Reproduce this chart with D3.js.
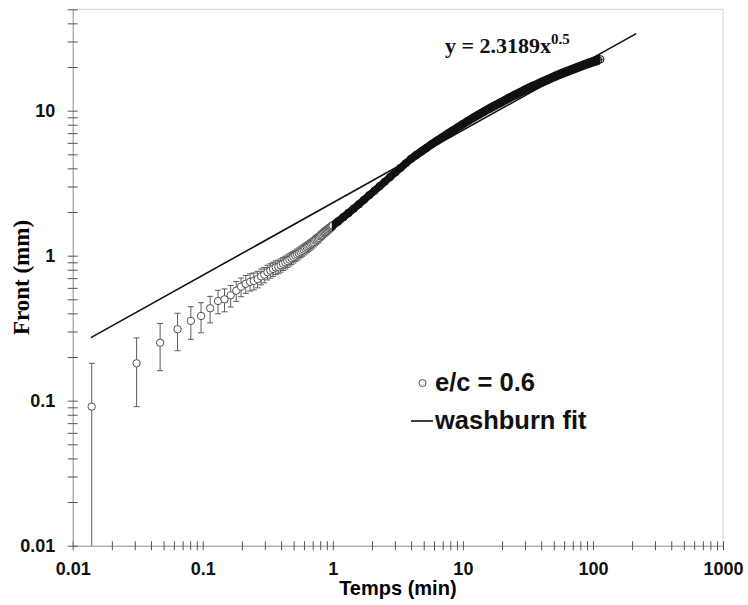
<!DOCTYPE html>
<meta charset="utf-8">
<html>
<head>
<script src="https://d3js.org/d3.v7.min.js"></script>
<style>
body { margin: 0; background: #fff; }
.axis .tick text { font: bold 18px "Liberation Sans", Arial, sans-serif; fill: #111; }
.axis path.domain { stroke: #8c8c8c; }
.axis .tick line { stroke: #555; }
</style>
</head>
<body>
<div id="chart"></div>
<script>
// data (time in min, front in mm)
var earlyTime = [0.014, 0.031, 0.047, 0.064, 0.081, 0.097, 0.114, 0.131, 0.147, 0.164,
  0.181, 0.197, 0.214, 0.231, 0.247, 0.264, 0.281, 0.297, 0.314, 0.331,
  0.347, 0.364, 0.381, 0.397, 0.414, 0.431, 0.447, 0.464, 0.481, 0.497,
  0.514, 0.531, 0.547, 0.564, 0.581, 0.597, 0.614, 0.631, 0.647, 0.664,
  0.681, 0.697, 0.714, 0.731, 0.747, 0.764, 0.781, 0.797, 0.814, 0.831,
  0.847, 0.864, 0.881, 0.897, 0.914, 0.931, 0.947, 0.964, 0.981, 0.997];
var earlyFront = [0.091, 0.181, 0.251, 0.311, 0.355, 0.384, 0.434, 0.487, 0.50, 0.533,
  0.574, 0.611, 0.64, 0.66, 0.67, 0.69, 0.72, 0.74, 0.77, 0.79,
  0.81, 0.83, 0.84, 0.86, 0.88, 0.90, 0.92, 0.94, 0.96, 0.98,
  1.00, 1.02, 1.04, 1.06, 1.08, 1.10, 1.12, 1.14, 1.16, 1.18,
  1.20, 1.22, 1.24, 1.27, 1.29, 1.31, 1.33, 1.36, 1.38, 1.40,
  1.43, 1.45, 1.47, 1.49, 1.51, 1.53, 1.55, 1.57, 1.59, 1.61];

var lateTime = [1.096, 1.202, 1.318, 1.445, 1.585, 1.738, 1.905, 2.089, 2.291, 2.512,
  2.754, 3.020, 3.311, 3.631, 3.981, 4.365, 4.786, 5.248, 5.754, 6.310,
  6.918, 7.586, 8.318, 9.120, 10.0, 10.96, 12.02, 13.18, 14.45, 15.85,
  17.38, 19.05, 20.89, 22.91, 25.12, 27.54, 30.20, 33.11, 36.31, 39.81,
  43.65, 47.86, 52.48, 57.54, 63.10, 69.18, 75.86, 83.18, 91.20, 100,
  109.6, 113.8];
var lateFront = [1.72, 1.84, 1.97, 2.11, 2.26, 2.43, 2.61, 2.80, 3.01, 3.24,
  3.48, 3.75, 4.03, 4.33, 4.65, 4.93, 5.22, 5.53, 5.86, 6.19,
  6.54, 6.90, 7.28, 7.67, 8.07, 8.49, 8.92, 9.36, 9.82, 10.29,
  10.77, 11.26, 11.77, 12.29, 12.82, 13.36, 13.92, 14.48, 15.05, 15.63,
  16.22, 16.82, 17.42, 18.03, 18.64, 19.26, 19.87, 20.50, 21.12, 21.73,
  22.35, 22.6];

var errorMm = 0.09;

// washburn fit y = 2.3189 x^0.5, end points
var fitTime = [0.0138, 215];
var fitFront = [0.272, 34.0];

var xLabels = [0.01, 0.1, 1, 10, 100, 1000];
var yLabels = [0.01, 0.1, 1, 10];

var width = 748, height = 605;
var plotLeft = 72.7, plotRight = 723, plotTop = 9.3, plotBottom = 545.7;

var svg = d3.select("#chart").append("svg")
    .attr("width", width)
    .attr("height", height);

var x = d3.scaleLog().domain([0.01, 1000]).range([plotLeft, plotRight]);
var y = d3.scaleLog().domain([0.01, 50]).range([plotBottom, plotTop]);

var early = earlyTime.map(function (t, i) { return { t: t, v: earlyFront[i] }; });
var late = lateTime.map(function (t, i) { return { t: t, v: lateFront[i] }; });
var all = early.concat(late);

// frame (top + right)
svg.append("line").attr("x1", plotLeft).attr("x2", plotRight).attr("y1", plotTop).attr("y2", plotTop)
    .attr("stroke", "#d4d4d4");
svg.append("line").attr("x1", plotRight).attr("x2", plotRight).attr("y1", plotTop).attr("y2", plotBottom)
    .attr("stroke", "#d4d4d4");

function isDecade(d) {
  var l = Math.log10(d);
  return Math.abs(l - Math.round(l)) < 1e-9;
}
var fmt = d3.format("~g");

var xAxis = svg.append("g").attr("class", "axis")
    .attr("transform", "translate(0," + plotBottom + ")")
    .call(d3.axisBottom(x).tickValues(x.ticks()).tickSizeOuter(0)
      .tickFormat(function (d) { return isDecade(d) && xLabels.indexOf(+fmt(d)) >= 0 ? fmt(d) : ""; }));
xAxis.selectAll(".tick line").attr("y1", -4.5).attr("y2", 4.5);
xAxis.selectAll(".tick text").attr("y", 16.5).attr("dy", "0.71em");

var yAxis = svg.append("g").attr("class", "axis")
    .attr("transform", "translate(" + plotLeft + ",0)")
    .call(d3.axisLeft(y).tickValues(y.ticks()).tickSizeOuter(0)
      .tickFormat(function (d) { return isDecade(d) && yLabels.indexOf(+fmt(d)) >= 0 ? fmt(d) : ""; }));
yAxis.selectAll(".tick line").attr("x1", -5).attr("x2", 5);
yAxis.selectAll(".tick text").attr("x", -17.5);

// axis titles
svg.append("text")
    .attr("x", (plotLeft + plotRight) / 2).attr("y", 595)
    .attr("text-anchor", "middle")
    .style("font", "bold 20px 'Liberation Sans', Arial, sans-serif")
    .text("Temps (min)");
svg.append("text")
    .attr("transform", "translate(29," + (plotTop + plotBottom) / 2 + ") rotate(-90)")
    .attr("text-anchor", "middle")
    .style("font", "bold 23px 'Liberation Serif', 'Times New Roman', serif")
    .text("Front (mm)");

// error bars
var cap = 3;
var bars = svg.append("g").attr("stroke", "#5c5c5c").attr("stroke-width", 1);
all.forEach(function (d) {
  var lo = Math.max(d.v - errorMm, 0.01), hi = d.v + errorMm;
  var cx = x(d.t);
  bars.append("line").attr("x1", cx).attr("x2", cx).attr("y1", y(lo)).attr("y2", y(hi));
  bars.append("line").attr("x1", cx - cap).attr("x2", cx + cap).attr("y1", y(hi)).attr("y2", y(hi));
  if (d.v - errorMm > 0.01) {
    bars.append("line").attr("x1", cx - cap).attr("x2", cx + cap).attr("y1", y(lo)).attr("y2", y(lo));
  }
});

// early markers, hollow circles
var r = 3.7;
svg.append("g").selectAll("circle")
    .data(early)
    .enter().append("circle")
    .attr("cx", function (d) { return x(d.t); })
    .attr("cy", function (d) { return y(d.v); })
    .attr("r", r)
    .attr("fill", "#fff")
    .attr("stroke", "#505050")
    .attr("stroke-width", 1);

// overplotted markers after 1 min form a solid band
var half = 5;
var bandData = early.slice(-2).concat(late);
var band = d3.area()
    .curve(d3.curveBasis)
    .x(function (d) { return x(d.t); })
    .y0(function (d) { return y(d.v) - half; })
    .y1(function (d) { return y(d.v) + half; });
svg.append("path")
    .datum(bandData)
    .attr("d", band)
    .attr("fill", "#111");

svg.append("g").selectAll("circle")
    .data(late)
    .enter().append("circle")
    .attr("cx", function (d) { return x(d.t); })
    .attr("cy", function (d) { return y(d.v); })
    .attr("r", r)
    .attr("fill", "none")
    .attr("stroke", "#111")
    .attr("stroke-width", 1);

// fit line
var fit = fitTime.map(function (t, i) { return { t: t, v: fitFront[i] }; });
svg.append("path")
    .datum(fit)
    .attr("d", d3.line().x(function (d) { return x(d.t); }).y(function (d) { return y(d.v); }))
    .attr("fill", "none")
    .attr("stroke", "#111")
    .attr("stroke-width", 1.6);

// equation
var eq = svg.append("text")
    .attr("x", 445).attr("y", 53)
    .style("font", "bold 22px 'Liberation Serif', 'Times New Roman', serif")
    .attr("fill", "#111");
eq.append("tspan").text("y = 2.3189x");
eq.append("tspan").attr("dy", -9).style("font-size", "15px").text("0.5");

// legend
var lg = svg.append("g");
lg.append("circle").attr("cx", 422.5).attr("cy", 383).attr("r", 3.5)
    .attr("fill", "#fff").attr("stroke", "#505050");
lg.append("text").attr("x", 435).attr("y", 391)
    .style("font", "bold 25.5px 'Liberation Sans', Arial, sans-serif")
    .attr("fill", "#111")
    .text("e/c = 0.6");
lg.append("line").attr("x1", 411).attr("x2", 433).attr("y1", 421).attr("y2", 421)
    .attr("stroke", "#111").attr("stroke-width", 1.6);
lg.append("text").attr("x", 435).attr("y", 429)
    .style("font", "bold 25.5px 'Liberation Sans', Arial, sans-serif")
    .attr("fill", "#111")
    .text("washburn fit");
</script>
</body>
</html>
